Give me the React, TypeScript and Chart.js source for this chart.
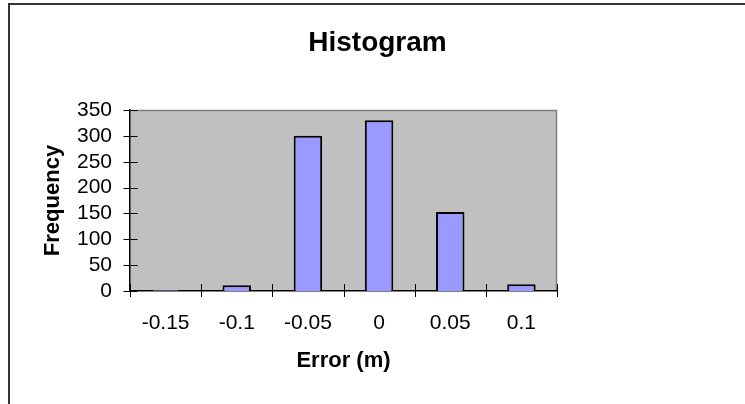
import React, { useEffect, useRef } from 'react';
import { Chart, registerables } from 'chart.js';

Chart.register(...registerables);

const categories = ['-0.15', '-0.1', '-0.05', '0', '0.05', '0.1'];
const frequency = [2, 11, 300, 330, 153, 13];
const yMin = 0;
const yMax = 350;
const yStep = 50;
const chartTitle = 'Histogram';
const xAxisTitle = 'Error (m)';
const yAxisTitle = 'Frequency';

const FONT = '"Liberation Sans", Arial, Helvetica, sans-serif';

const plotDecor = {
  id: 'plotDecor',
  beforeDraw(chart: any) {
    const { ctx, chartArea } = chart;
    const { left, top, right, bottom } = chartArea;
    ctx.save();
    ctx.fillStyle = '#c0c0c0';
    ctx.fillRect(left, top, right - left, bottom - top);
    ctx.strokeStyle = '#808080';
    ctx.lineWidth = 1.5;
    ctx.beginPath();
    ctx.moveTo(left, top + 0.5);
    ctx.lineTo(right - 0.5, top + 0.5);
    ctx.lineTo(right - 0.5, bottom);
    ctx.stroke();
    ctx.restore();
  },
  afterDraw(chart: any) {
    const { ctx, chartArea, scales } = chart;
    const xs = scales.x;
    const ys = scales.y;
    ctx.save();
    ctx.strokeStyle = '#000';
    ctx.lineWidth = 1;
    ctx.beginPath();
    const ax = Math.round(chartArea.left) + 0.5;
    ys.ticks.forEach((_t: any, i: number) => {
      const py = Math.round(ys.getPixelForTick(i)) + 0.5;
      ctx.moveTo(ax - 7, py);
      ctx.lineTo(ax + 7, py);
    });
    const n = xs.ticks.length;
    const by = Math.round(chartArea.bottom);
    for (let i = 0; i <= n; i++) {
      let px: number;
      if (i === 0) px = chartArea.left;
      else if (i === n) px = chartArea.right;
      else px = (xs.getPixelForTick(i - 1) + xs.getPixelForTick(i)) / 2;
      px = Math.round(px) + 0.5;
      ctx.moveTo(px, by - 7);
      ctx.lineTo(px, by + 6);
    }
    ctx.stroke();
    ctx.restore();
  },
};

export default function App() {
  const canvasRef = useRef<HTMLCanvasElement | null>(null);

  useEffect(() => {
    if (!canvasRef.current) return;
    const chart = new Chart(canvasRef.current, {
      type: 'bar',
      data: {
        labels: categories,
        datasets: [
          {
            label: yAxisTitle,
            data: frequency,
            yAxisID: 'y',
            backgroundColor: '#9999ff',
            borderColor: '#000000',
            borderWidth: 2,
            categoryPercentage: 1,
            barPercentage: 0.4,
          },
        ],
      },
      options: {
        animation: false,
        responsive: true,
        maintainAspectRatio: false,
        layout: { padding: { left: 10, right: 0, top: 0, bottom: 0 } },
        plugins: {
          legend: { display: false },
          tooltip: { enabled: false },
          title: {
            display: true,
            text: chartTitle,
            color: '#000',
            font: { family: FONT, size: 28, weight: 'bold' },
            padding: { top: 26, bottom: 50.4 },
          },
        },
        scales: {
          x: {
            type: 'category',
            offset: true,
            grid: { display: false, drawTicks: false, offset: true },
            border: { display: true, color: '#000', width: 1.5 },
            ticks: {
              color: '#000',
              font: { family: FONT, size: 21 },
              padding: 20,
              maxRotation: 0,
              autoSkip: false,
            },
            title: {
              display: true,
              text: xAxisTitle,
              color: '#000',
              font: { family: FONT, size: 22, weight: 'bold' },
              padding: { top: 0, bottom: 30 },
            },
            afterFit: (s: any) => {
              s.height = 113;
            },
          },
          y: {
            type: 'linear',
            position: 'left',
            min: yMin,
            max: yMax,
            grid: { display: false, drawTicks: false },
            border: { display: true, color: '#000', width: 1.5 },
            ticks: {
              stepSize: yStep,
              autoSkip: false,
              color: '#000',
              font: { family: FONT, size: 21 },
              padding: 18,
            },
            title: {
              display: true,
              text: yAxisTitle,
              color: '#000',
              font: { family: FONT, size: 22, weight: 'bold' },
              padding: { top: 30, bottom: 0 },
            },
            afterFit: (s: any) => {
              s.width = 120;
            },
          },
          y2: {
            type: 'linear',
            position: 'right',
            display: true,
            grid: { display: false, drawTicks: false },
            border: { display: false },
            ticks: { display: false },
            afterFit: (s: any) => {
              s.width = 188;
            },
          },
        },
      },
      plugins: [plotDecor],
    });
    return () => chart.destroy();
  }, []);

  return (
    <div
      style={{
        position: 'fixed',
        left: 0,
        top: 0,
        width: 745,
        height: 404,
        background: '#fff',
        overflow: 'hidden',
      }}
    >
      <div
        style={{
          position: 'absolute',
          left: 8,
          top: 3,
          right: -4,
          bottom: -4,
          borderLeft: '2px solid #333',
          borderTop: '2px solid #333',
        }}
      />
      <div style={{ position: 'absolute', left: 0, top: 0, width: 745, height: 404 }}>
        <canvas ref={canvasRef} />
      </div>
    </div>
  );
}
